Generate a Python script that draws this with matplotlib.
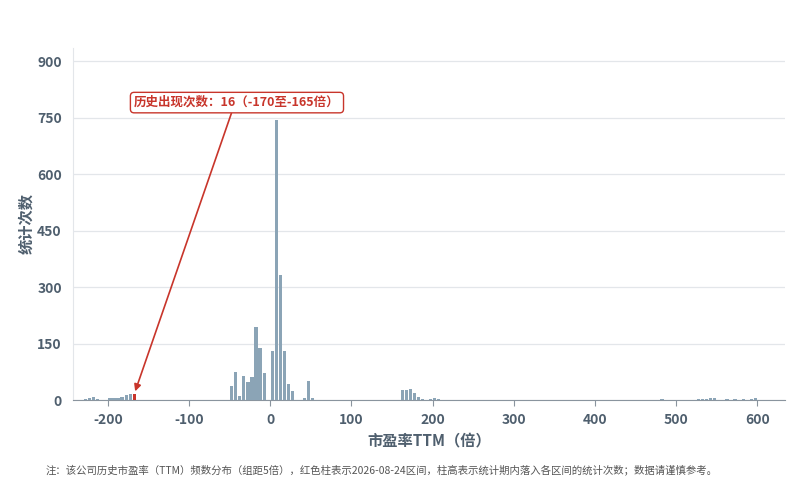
import numpy as np
import matplotlib
matplotlib.use('Agg')
import matplotlib.pyplot as plt

plt.rcParams['font.family'] = ['Noto Sans CJK SC', 'DejaVu Sans']
plt.rcParams['axes.unicode_minus'] = False

# 区间中心（组距5倍）与次数
bin_centers = [
    -227.5, -222.5, -217.5, -212.5, -207.5, -202.5, -197.5, -192.5, -187.5, -182.5, -177.5, -172.5, -167.5,
    -47.5, -42.5, -37.5, -32.5, -27.5, -22.5, -17.5, -12.5, -7.5, -2.5,
    2.5, 7.5, 12.5, 17.5, 22.5, 27.5, 42.5, 47.5, 52.5,
    162.5, 167.5, 172.5, 177.5, 182.5, 187.5, 192.5, 197.5, 202.5, 207.5,
    482.5, 527.5, 532.5, 537.5, 542.5, 547.5, 552.5, 562.5, 572.5, 582.5, 592.5, 597.5, 612.5, 617.5,
]
counts = [
    3, 5, 9, 2, 1, 0, 4, 5, 5, 7, 12, 17, 16,
    37, 75, 11, 64, 48, 61, 193, 137, 72, 0,
    131, 743, 331, 129, 42, 25, 6, 51, 6,
    27, 26, 29, 19, 8, 2, 1, 3, 4, 2,
    2, 2, 2, 3, 6, 4, 1, 3, 2, 3, 2, 4, 1, 1,
]
current_bin = -167.5
current_label = '历史出现次数：16（-170至-165倍）'
y_ticks = [0, 150, 300, 450, 600, 750, 900]
x_ticks = [-200, -100, 0, 100, 200, 300, 400, 500, 600]
note = '注：该公司历史市盈率（TTM）频数分布（组距5倍），红色柱表示2026-08-24区间，柱高表示统计期内落入各区间的统计次数；数据请谨慎参考。'

bar_color = '#8ba4b6'
red = '#c8352b'
text_color = '#4f5f6e'

fig = plt.figure(figsize=(8.08, 5.00), dpi=100)
ax = fig.add_axes([0.0903, 0.2, 0.8812, 0.704])

colors = [red if c == current_bin else bar_color for c in bin_centers]
ax.bar(bin_centers, counts, width=4.0, color=colors, zorder=3)

ax.set_xlim(-243, 634)
ax.set_ylim(0, 935)
ax.set_yticks(y_ticks)
ax.set_xticks(x_ticks)
ax.grid(axis='y', color='#e3e6ea', linewidth=0.9, zorder=0)
ax.tick_params(axis='y', length=0, pad=8, labelsize=10, labelcolor=text_color)
ax.tick_params(axis='x', length=4, color='#8a949e', pad=5, labelsize=10, labelcolor=text_color)
for lbl in ax.get_xticklabels() + ax.get_yticklabels():
    lbl.set_fontweight('bold')

for s in ['top', 'right']:
    ax.spines[s].set_visible(False)
ax.spines['left'].set_color('#e3e6ea')
ax.spines['bottom'].set_color('#8a949e')

ax.set_xlabel('市盈率TTM（倍）', fontsize=11, fontweight='bold', color=text_color, labelpad=4)
ax.set_ylabel('统计次数', fontsize=11, fontweight='bold', color=text_color, labelpad=2)

idx = bin_centers.index(current_bin)
ax.annotate(current_label, xy=(current_bin, counts[idx]), xytext=(-41, 790),
            ha='center', va='center', fontsize=9, fontweight='bold', color=red,
            bbox=dict(boxstyle='round,pad=0.3', fc='white', ec=red, lw=1),
            arrowprops=dict(arrowstyle='-|>', color=red, lw=1.2, shrinkA=0, shrinkB=2,
                            mutation_scale=10, relpos=(0.48, 0.0)),
            zorder=5)

fig.text(0.056, 0.06, note, fontsize=7.5, color='#555555', ha='left', va='center')

fig.savefig('out.png', dpi=100, facecolor='white')
